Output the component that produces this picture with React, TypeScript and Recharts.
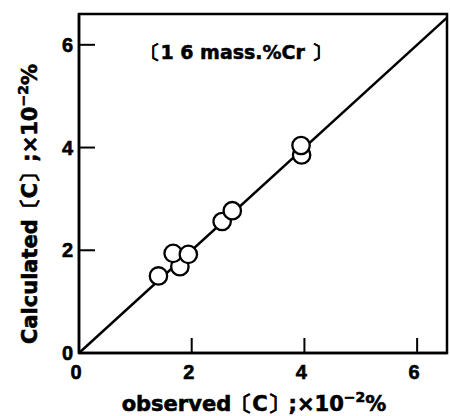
import { ScatterChart, Scatter, XAxis, YAxis, ReferenceArea } from 'recharts';

const observed = [1.41, 1.79, 1.67, 1.94, 2.54, 2.72, 3.95, 3.94];
const calculated = [1.5, 1.68, 1.94, 1.92, 2.56, 2.77, 3.855, 4.04];
const axisTicks = [0, 2, 4, 6];
const xMax = 6.53;
const yMax = 6.6;
const fitLine = [0, xMax];

const points = observed.map((x, i) => ({ x, y: calculated[i] }));
const diagonal = fitLine.map((v) => ({ x: v, y: v }));

const TICK_FONT = '"Liberation Sans", Arial, sans-serif';
const TITLE_FONT = '"DejaVu Sans", sans-serif';
const AXIS_X = 79;
const AXIS_Y = 353;

const XTick = (props: any) => {
  const { x, payload } = props;
  return (
    <g>
      {payload.value !== 0 && (
        <line x1={x} x2={x} y1={AXIS_Y} y2={AXIS_Y - 15} stroke="#000" strokeWidth={2} />
      )}
      <text x={x - 3} y={379} textAnchor="middle" fontFamily={TICK_FONT} fontWeight="bold" fontSize={20} fill="#000" stroke="#000" strokeWidth={0.6}>
        {payload.value}
      </text>
    </g>
  );
};

const YTick = (props: any) => {
  const { x, y, payload } = props;
  return (
    <g>
      {payload.value !== 0 && (
        <line x1={AXIS_X} x2={AXIS_X + 16} y1={y} y2={y} stroke="#000" strokeWidth={2} />
      )}
      <text x={x} y={y + 7} textAnchor="end" fontFamily={TICK_FONT} fontWeight="bold" fontSize={20} fill="#000" stroke="#000" strokeWidth={0.6}>
        {payload.value}
      </text>
    </g>
  );
};

const XTitle = () => (
  <text x={254} y={411} textAnchor="middle" fontFamily={TITLE_FONT} fontWeight="bold" fontSize={21} fill="#000" stroke="#000" strokeWidth={0.6}>
    observed〔C〕;×10
    <tspan dy={-9} fontSize={14}>−2</tspan>
    <tspan dy={9}>%</tspan>
  </text>
);

const YTitle = () => (
  <text x={37} y={204} transform="rotate(-90 37 204)" textAnchor="middle" fontFamily={TITLE_FONT} fontWeight="bold" fontSize={21} fill="#000" stroke="#000" strokeWidth={0.6}>
    Calculated〔C〕;×10
    <tspan dy={-9} fontSize={14}>−2</tspan>
    <tspan dy={9}>%</tspan>
  </text>
);

const Note = () => (
  <text x={236} y={59} textAnchor="middle" fontFamily={TITLE_FONT} fontWeight="bold" fontSize={19} fill="#000" stroke="#000" strokeWidth={0.5}>
    〔1 6 mass.%Cr 〕
  </text>
);

const Ring = (props: any) => (
  <circle cx={props.cx} cy={props.cy} r={8.7} fill="#fff" stroke="#000" strokeWidth={2.3} />
);

export default function App() {
  return (
    <div style={{ width: 450, height: 416 }}>
      <style>{'body{margin:0}'}</style>
      <ScatterChart width={450} height={416} margin={{ top: 14, right: 3, bottom: 0, left: 0 }}>
        <XAxis
          type="number"
          dataKey="x"
          domain={[0, xMax]}
          ticks={axisTicks}
          allowDataOverflow
          tickSize={0}
          tickLine={false}
          tickMargin={0}
          height={63}
          axisLine={{ stroke: '#000', strokeWidth: 2.5 }}
          tick={<XTick />}
          label={<XTitle />}
        />
        <YAxis
          type="number"
          dataKey="y"
          domain={[0, yMax]}
          ticks={axisTicks}
          allowDataOverflow
          tickSize={0}
          tickLine={false}
          tickMargin={6}
          width={79}
          axisLine={{ stroke: '#000', strokeWidth: 2.5 }}
          tick={<YTick />}
          label={<YTitle />}
        />
        <ReferenceArea
          x1={0}
          x2={xMax}
          y1={0}
          y2={yMax}
          fill="none"
          fillOpacity={0}
          stroke="#000"
          strokeWidth={2.5}
          strokeOpacity={1}
          ifOverflow="visible"
          label={<Note />}
        />
        <Scatter
          data={diagonal}
          line={{ stroke: '#000', strokeWidth: 2.6 }}
          shape={() => null}
          isAnimationActive={false}
        />
        <Scatter data={points} shape={<Ring />} isAnimationActive={false} />
      </ScatterChart>
    </div>
  );
}
